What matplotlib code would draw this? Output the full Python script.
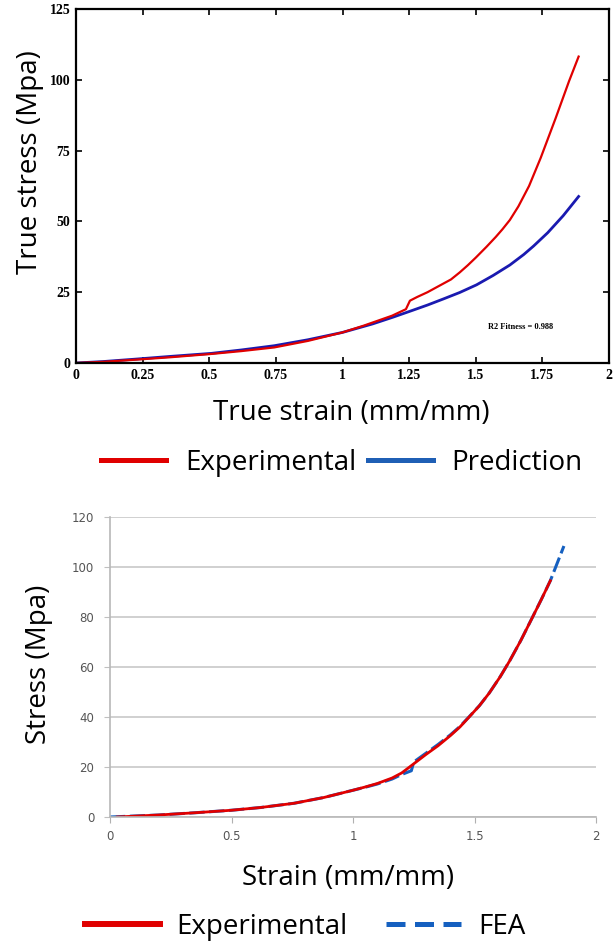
import matplotlib.pyplot as plt
from matplotlib.lines import Line2D

# top panel: true stress vs true strain
strain_exp = [0, 0.1, 0.228, 0.35, 0.508, 0.62, 0.744, 0.87, 1.0, 1.08, 1.186, 1.238,
              1.253, 1.28, 1.319, 1.36, 1.407, 1.44, 1.47, 1.50, 1.54, 1.575, 1.60, 1.628,
              1.66, 1.70, 1.744, 1.80, 1.85, 1.886]
stress_exp = [0, 0.4, 1.2, 2.0, 3.2, 4.2, 5.5, 7.8, 10.8, 13.2, 16.7, 19.0,
              22.0, 23.3, 25.0, 27.1, 29.5, 32.0, 34.5, 37.2, 41.0, 44.5, 47.2, 50.5,
              55.3, 62.5, 72.5, 86.5, 99.5, 108.2]
strain_pred = [0, 0.1, 0.228, 0.35, 0.508, 0.62, 0.744, 0.87, 1.0, 1.113, 1.19, 1.26,
               1.32, 1.378, 1.44, 1.503, 1.565, 1.628, 1.68, 1.717, 1.77, 1.828, 1.886]
stress_pred = [0, 0.5, 1.4, 2.3, 3.4, 4.6, 6.1, 8.2, 10.8, 13.8, 16.2, 18.5,
               20.5, 22.6, 24.9, 27.6, 30.9, 34.6, 38.3, 41.3, 46.0, 52.0, 58.8]

# bottom panel: stress vs strain
strain_b = [0.03, 0.2, 0.35, 0.5, 0.62, 0.758, 0.88, 1.0, 1.05, 1.1, 1.161, 1.2, 1.226,
            1.3, 1.35, 1.4, 1.44, 1.476, 1.52, 1.56, 1.605, 1.645, 1.69, 1.734, 1.775, 1.812]
stress_b = [0, 0.8, 1.7, 2.7, 3.8, 5.5, 7.8, 10.7, 12.0, 13.4, 15.6, 17.6, 19.5,
            25.0, 28.5, 32.5, 36.0, 39.8, 44.5, 49.5, 56.0, 62.5, 70.5, 79.0, 87.0, 94.5]
strain_fea = [0, 0.2, 0.35, 0.5, 0.62, 0.758, 0.88, 1.0, 1.05, 1.1, 1.161, 1.2, 1.24,
              1.25, 1.3, 1.35, 1.4, 1.44, 1.476, 1.52, 1.56, 1.605, 1.645, 1.69, 1.734,
              1.775, 1.812, 1.831, 1.868]
stress_fea = [0, 0.8, 1.7, 2.7, 3.8, 5.5, 7.8, 10.7, 11.9, 13.2, 15.2, 17.0, 18.5,
              22.0, 25.5, 29.0, 32.8, 36.2, 39.9, 44.5, 49.5, 56.0, 62.5, 70.5, 79.0,
              87.0, 94.5, 99.2, 108.4]

red = '#e00000'
blue_top = '#1a1ab0'
blue_fea = '#1560c0'
label_font = 'Open Sans'

fig = plt.figure(figsize=(6.14, 9.43), dpi=100)

# ---- top chart ----
ax1 = fig.add_axes([76 / 614, 1 - 363 / 943, 533 / 614, 354 / 943])
ax1.plot(strain_pred, stress_pred, color=blue_top, lw=2)
ax1.plot(strain_exp, stress_exp, color=red, lw=1.6)
ax1.set_xlim(0, 2)
ax1.set_ylim(0, 125)
ax1.set_xticks([0, 0.25, 0.5, 0.75, 1, 1.25, 1.5, 1.75, 2])
ax1.set_xticklabels(['0', '0.25', '0.5', '0.75', '1', '1.25', '1.5', '1.75', '2'])
ax1.set_yticks([0, 25, 50, 75, 100, 125])
ax1.tick_params(direction='in', top=True, right=True, length=4, width=1.2, pad=4)
for lab in ax1.get_xticklabels() + ax1.get_yticklabels():
    lab.set_fontfamily('Liberation Serif')
    lab.set_fontweight('bold')
    lab.set_fontsize(10)
for sp in ax1.spines.values():
    sp.set_linewidth(1.6)
ax1.text(1.67, 12.7, 'R2 Fitness = 0.988', fontsize=6, fontweight='bold',
         family='Liberation Serif', ha='center', va='center')
ax1.set_xlabel('True strain (mm/mm)', fontsize=20, family=label_font, va='center')
ax1.xaxis.set_label_coords(0.516, -0.141)
ax1.set_ylabel('True stress (Mpa)', fontsize=20, family=label_font, va='center')
ax1.yaxis.set_label_coords(-0.0863, 0.568)

h1 = [Line2D([], [], color=red, lw=3.6), Line2D([], [], color='#1f5fb5', lw=3.6)]
fig.legend(h1, ['Experimental', 'Prediction'], loc='center',
           bbox_to_anchor=(342 / 614, 1 - 463 / 943), ncol=2, frameon=False,
           handlelength=2.34, columnspacing=0.4, handletextpad=0.68,
           prop={'family': label_font, 'size': 20})

# ---- bottom chart ----
ax2 = fig.add_axes([110 / 614, 126 / 943, 486 / 614, 300 / 943])
ax2.plot(strain_fea, stress_fea, color=blue_fea, lw=2.2, dashes=(5, 1.5))
ax2.plot(strain_b, stress_b, color=red, lw=2)
ax2.set_xlim(0, 2)
ax2.set_ylim(0, 120)
ax2.set_xticks([0, 0.5, 1, 1.5, 2])
ax2.set_xticklabels(['0', '0.5', '1', '1.5', '2'])
ax2.set_yticks(range(0, 121, 20))
ax2.grid(axis='y', color='#c8c8c8', lw=1.2)
ax2.set_axisbelow(True)
for s in ['top', 'right']:
    ax2.spines[s].set_visible(False)
for s in ['bottom', 'left']:
    ax2.spines[s].set_color('#b8b8b8')
    ax2.spines[s].set_linewidth(1.2)
ax2.tick_params(axis='x', colors='#555555', labelsize=8.5, length=4, color='#b0b0b0', pad=5)
ax2.tick_params(axis='y', colors='#555555', labelsize=8.5, length=4.3, color='#c0c0c0', pad=7)
ax2.set_xlabel('Strain (mm/mm)', fontsize=20, family=label_font, va='center')
ax2.xaxis.set_label_coords(0.49, -0.203)
ax2.set_ylabel('Stress (Mpa)', fontsize=20, family=label_font, va='center')
ax2.yaxis.set_label_coords(-0.146, 0.51)

h2 = [Line2D([], [], color=red, lw=4.3), Line2D([], [], color=blue_fea, lw=3.6, dashes=(3.8, 1.9))]
fig.legend(h2, ['Experimental', 'FEA'], loc='center',
           bbox_to_anchor=(305 / 614, 1 - 927 / 943), ncol=2, frameon=False,
           handlelength=2.7, columnspacing=1.4, handletextpad=0.6,
           prop={'family': label_font, 'size': 20})

fig.savefig('out.png', dpi=100)
